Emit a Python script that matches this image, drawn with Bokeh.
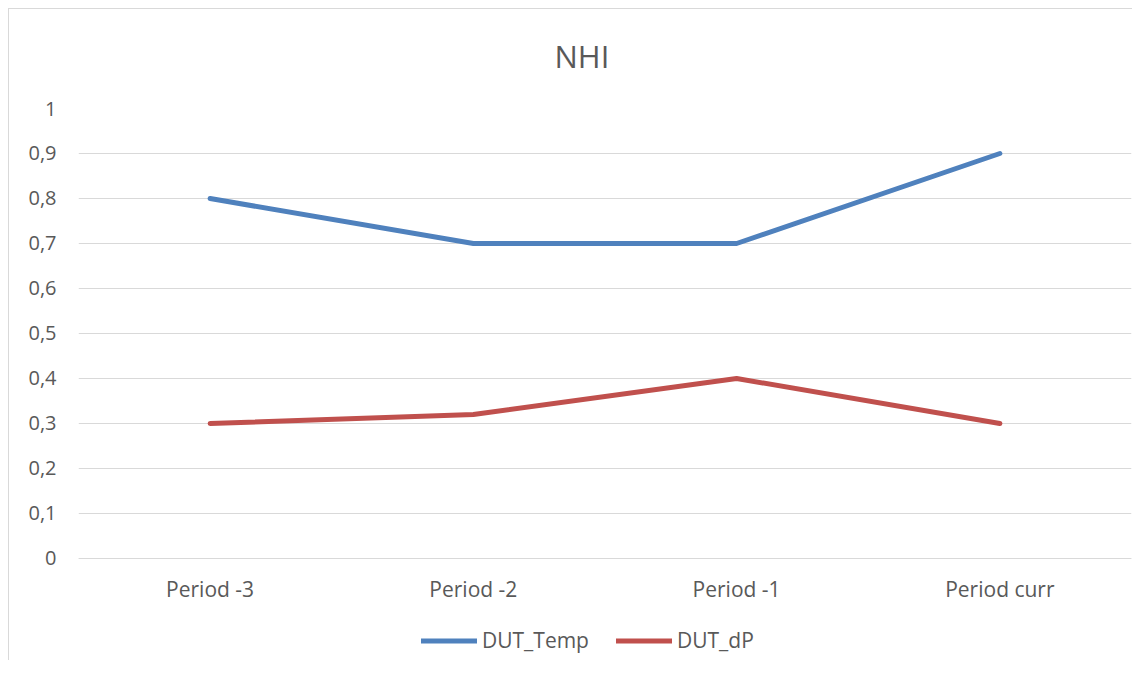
from bokeh.plotting import figure
from bokeh.models import Legend, LegendItem, FixedTicker, Range1d, FactorRange
from bokeh.embed import file_html
from bokeh.resources import INLINE

categories = ["Period -3", "Period -2", "Period -1", "Period curr"]
dut_temp = [0.8, 0.7, 0.7, 0.9]
dut_dp = [0.3, 0.32, 0.4, 0.3]
y_ticks = [0, 0.1, 0.2, 0.3, 0.4, 0.5, 0.6, 0.7, 0.8, 0.9, 1]
y_tick_labels = ["0", "0,1", "0,2", "0,3", "0,4", "0,5", "0,6", "0,7", "0,8", "0,9", "1"]

FONT = "Open Sans"
TXT = "#595959"

# the value axis runs 0..1; the frame extends below 0 to leave room for the
# category labels and the legend inside the plotting area
p = figure(frame_width=1053, frame_height=552, x_range=FactorRange(*categories),
           y_range=Range1d(-0.2267, 1),
           output_backend="svg", toolbar_location=None,
           min_border_left=78, min_border_right=1, min_border_top=107, min_border_bottom=0)

# chart-area border (thin light grey, left and top edges visible in the reference)
p.border_fill_color = None
p.background_fill_color = None
p.styles = {"background": "linear-gradient(#d9d9d9, #d9d9d9) 8px 8px / 1px 100% no-repeat, "
                          "linear-gradient(#d9d9d9, #d9d9d9) 8px 8px / 100% 1px no-repeat, #ffffff"}

p.title.text = "NHI"
p.title.align = "left"
p.title.offset = 476
p.title.text_font = FONT
p.title.text_font_size = "31px"
p.title.text_font_style = "normal"
p.title.text_color = TXT
p.title.standoff = 64

p.outline_line_color = None
p.xgrid.grid_line_color = None
p.ygrid.grid_line_color = "#d9d9d9"
p.ygrid.grid_line_width = 1

p.yaxis.ticker = FixedTicker(ticks=y_ticks)
p.yaxis.major_label_overrides = {t: l for t, l in zip(y_ticks, y_tick_labels)}
p.yaxis.axis_line_color = None
p.yaxis.major_tick_line_color = None
p.yaxis.minor_tick_line_color = None
p.yaxis.major_label_standoff = 16
p.yaxis.major_label_text_font = FONT
p.yaxis.major_label_text_font_size = "20px"
p.yaxis.major_label_text_color = TXT

p.xaxis.fixed_location = 0
p.xaxis.axis_line_color = "#d9d9d9"
p.xaxis.major_tick_line_color = None
p.xaxis.minor_tick_line_color = None
p.xaxis.major_label_standoff = 11
p.xaxis.major_label_text_font = FONT
p.xaxis.major_label_text_font_size = "21px"
p.xaxis.major_label_text_color = TXT

r1 = p.line(x=categories, y=dut_temp, line_width=5, line_color="#4f81bd",
            line_cap="round", line_join="round")
r2 = p.line(x=categories, y=dut_dp, line_width=5, line_color="#c0504d",
            line_cap="round", line_join="round")

legend = Legend(items=[LegendItem(label="DUT_Temp", renderers=[r1]),
                       LegendItem(label="DUT_dP", renderers=[r2])],
                orientation="horizontal", location=(343, 6),
                glyph_width=56, glyph_height=25, label_standoff=5, spacing=27,
                label_text_font=FONT, label_text_font_size="21px", label_text_color=TXT,
                border_line_color=None, background_fill_alpha=0, padding=0, margin=0)
p.add_layout(legend, "center")

open("out.html", "w").write(file_html(p, INLINE))
